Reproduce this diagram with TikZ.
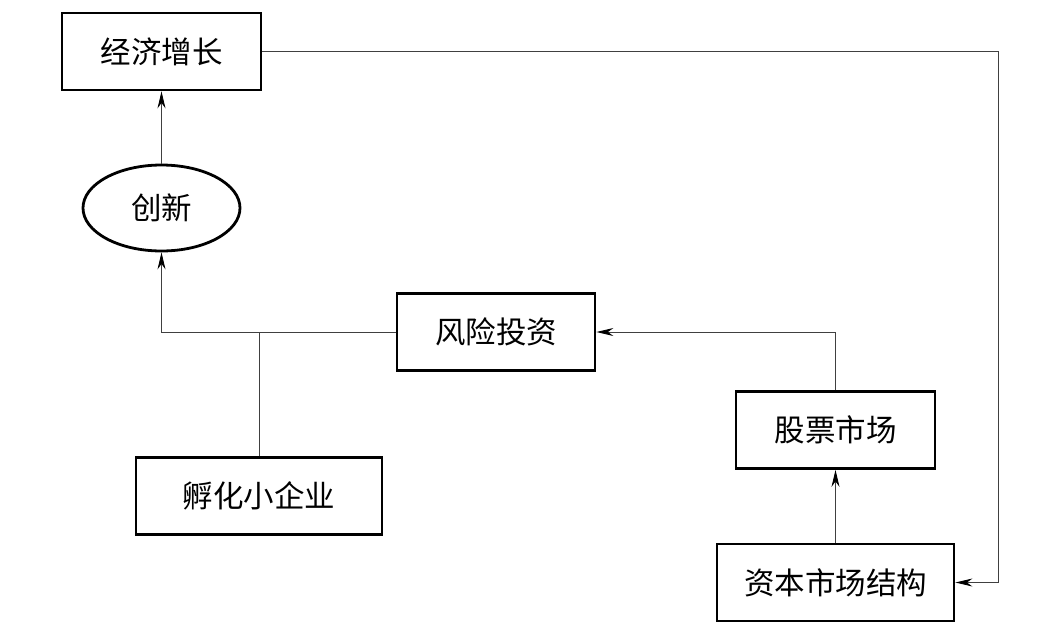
\documentclass[tikz,border=0pt]{standalone}
\usepackage{fontspec}
\newfontfamily\cjk{Noto Sans CJK SC}
\usetikzlibrary{shapes.geometric, arrows.meta}

\tikzset{
  box/.style={draw, line width=2.8pt, minimum height=77pt, inner sep=0pt, font=\cjk\fontsize{30.5}{36}\selectfont},
  oval/.style={ellipse, draw, line width=2.8pt, minimum width=157pt, minimum height=86pt, inner sep=0pt, font=\cjk\fontsize{30.5}{36}\selectfont},
  link/.style={line width=0.9pt, black!75},
  arr/.style={link, -{Stealth[length=17pt, width=8pt, black]}}
}

\begin{document}
\begin{tikzpicture}[x=1pt, y=-1pt]
\useasboundingbox (0,0) rectangle (1057,643);
% boxes
\node[box, minimum width=199pt] (growth) at (161.5,51.5) {经济增长};
\node[oval] (innov) at (161.5,208) {创新};
\node[box, minimum width=198pt] (venture) at (496,332) {风险投资};
\node[box, minimum width=246pt] (incub) at (259,496) {孵化小企业};
\node[box, minimum width=199pt] (stock) at (835.5,430) {股票市场};
\node[box, minimum width=237pt] (capital) at (835.5,582.5) {资本市场结构};
\coordinate (rt) at (998,300);
% connectors
\draw[arr] (innov) -- (growth);
\draw[arr] (venture.west) -| (innov.south);
\draw[link] (incub.north) -- (incub.north |- venture.west);
\draw[arr] (stock.north) |- (venture.east);
\draw[arr] (capital) -- (stock);
\draw[arr] (growth.east) -| (rt) |- (capital.east);
\end{tikzpicture}
\end{document}
